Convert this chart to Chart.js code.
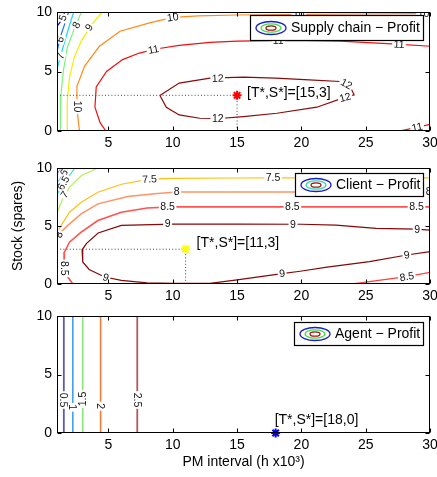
<!DOCTYPE html>
<html><head><meta charset="utf-8">
<script src="https://cdn.jsdelivr.net/npm/chart.js@4"></script>
<style>
html,body{margin:0;padding:0;background:#fff;}
#wrap{position:relative;width:437px;height:477px;overflow:hidden;}
#wrap canvas{position:absolute;left:0;top:0;}
</style>
</head><body>
<div id="wrap">
<canvas id="c1" width="437" height="477"></canvas>
<canvas id="c2" width="437" height="477"></canvas>
<canvas id="c3" width="437" height="477"></canvas>
</div>
<script>
const FONT = '"Liberation Sans", Arial, Helvetica, sans-serif';

// ---------- shared axes ----------
const xTicks = [5, 10, 15, 20, 25, 30];
const yTicks = [0, 5, 10];
const xRange = [1, 30];
const yRange = [0, 10];

// ---------- Supply chain - Profit (top) : contour lines [x, y] ----------
const scLevel5  = [[1.6,10],[1.35,9.3],[1.0,8.8]];
const scLevel6  = [[1.9,10],[1.6,9.0],[1.35,8.2],[1.0,6.7]];
const scLevel7  = [[2.3,10],[1.95,8.8],[1.7,7.9],[1.3,6.4],[1.0,5.2]];
const scLevel8  = [[2.9,10],[2.35,8.6],[1.8,7.0],[1.5,5.1],[1.3,3.0],[1.27,0]];
const scLevel9  = [[4.5,10],[3.75,9.0],[2.9,7.6],[2.35,6.2],[1.97,4.5],[1.8,2.5],[1.8,0]];
const scLevel10 = [[30,9.86],[25,9.83],[20,9.8],[15,9.75],[12,9.68],[10,9.55],[8.2,9.09],[5.9,8.38],[4.3,7.12],[3.15,5.45],[2.55,3.75],[2.55,2.2],[2.62,1.2],[2.75,0]];
const scLevel11 = [[30,7.12],[27.4,7.3],[23,7.55],[19,7.62],[15,7.55],[12.9,7.45],[10.5,7.2],[8.7,6.89],[7.4,6.55],[6.1,6.0],[4.85,5.0],[4.05,3.7],[3.95,2.0],[4.35,0.7],[4.8,0]];
const scLevel11b = [[27.6,0],[29,0.3],[30,0.55]];
const scLevel12 = [[9.0,2.98],[10.5,4.03],[12.9,4.45],[15.5,4.53],[18,4.45],[20.6,4.3],[23,4.16],[23.8,3.7],[24.1,3.04],[23.2,2.76],[21.2,2.0],[18.1,1.49],[15.5,1.21],[13.6,1.05],[12.1,1.07],[10.5,1.35],[9.5,2.0],[9.0,2.98]];
const scLabels = [["5",1.45,9.5,-70],["6",1.23,7.7,-70],["7",1.28,6.3,-70],["8",2.5,8.9,-62],["9",3.5,8.7,-56],
  ["10",10,9.55,-8],["10",19.8,9.8,0],["10",29.5,9.85,0],["10",2.55,2.05,90],
  ["11",8.5,6.84,-11],["11",18.2,7.6,0],["11",27.6,7.28,3],["11",29.0,0.32,-12],
  ["12",13.5,4.42,-3],["12",23.5,3.95,28],["12",23.4,2.82,-16],["12",13.5,1.05,0]];
const scOptimum = [15, 3];

// ---------- Client - Profit (middle) ----------
const clLevel55 = [[1.35,10],[1.0,9.4]];
const clLevel6  = [[1.85,10],[1.45,9.4],[1.0,8.6]];
const clLevel65 = [[2.4,10],[1.85,9.2],[1.4,8.5],[1.0,7.7]];
const clLevel7  = [[4.2,10],[2.9,9.35],[1.97,8.34],[1.45,7.34],[1.12,6.47],[1.0,6.1]];
const clLevel75 = [[30,9.15],[25,9.15],[20,9.15],[15,9.14],[10,9.1],[8.2,9.04],[6,8.6],[4.18,7.91],[2.88,7.05],[1.97,6.19],[1.33,5.05],[1.0,4.4]];
const clLevel8  = [[30,7.94],[20,7.94],[15,7.94],[10.3,7.93],[8.6,7.78],[6.5,7.55],[4.18,6.91],[2.88,6.05],[1.84,5.05],[1.2,4.35],[1.0,4.0]];
const clLevel85 = [[30,6.65],[20,6.65],[10,6.65],[8,6.55],[6,6.19],[4.18,5.47],[2.88,4.47],[1.97,3.6],[1.58,2.75],[1.55,1.5],[1.84,0.6],[2.23,0]];
const clLevel85b = [[24,0],[26,0.32],[28.2,0.63],[30,1.0]];
const clLevel9  = [[30,4.65],[28.9,4.73],[25.8,4.8],[22.7,5.07],[20,5.15],[15,5.17],[10,5.17],[6,5.05],[4.2,4.4],[3.3,3.5],[2.95,2.95],[3.0,1.9],[3.5,1.25],[4.7,0.6],[6.0,0.32],[8.0,0.1],[10,0.05],[12.9,0.06],[15,0.35],[18.5,0.9],[19.9,1.1],[22,1.45],[25.3,1.93],[28.2,2.5],[30,2.8]];
const clLabels = [["6",1.55,9.6,-60],["6.5",1.5,8.7,-60],["7",1.6,7.7,-55],["8",1.15,4.25,-65],["8.5",1.56,1.35,90],
  ["7.5",8.2,9.04,-4],["7.5",17.8,9.14,0],["8",10.3,7.93,0],["8",29.9,7.94,0],
  ["8.5",9.6,6.65,0],["8.5",19.3,6.65,0],["8.5",28.95,6.65,0],
  ["9",9.6,5.17,0],["9",19.35,5.15,0],["9",29.0,4.7,0],["9",4.8,0.57,18],["9",18.5,0.9,-8],["9",28.2,2.5,-10],
  ["8.5",28.2,0.63,-9]];
const clOptimum = [11, 3];

// ---------- Agent - Profit (bottom) ----------
const agLevel05 = [[1.53,0],[1.53,10]];
const agLevel1  = [[2.23,0],[2.23,10]];
const agLevel15 = [[3.0,0],[3.0,10]];
const agLevel2  = [[4.39,0],[4.39,10]];
const agLevel25 = [[7.24,0],[7.24,10]];
const agLabels = [["0.5",1.53,2.82,90],["1",2.23,2.2,90],["1.5",3.0,2.9,-90],["2",4.39,2.29,90],["2.5",7.24,2.82,90]];
const agOptimum = [18, 0];

// ---------- helpers ----------
const pts = a => a.map(p => ({x: p[0], y: p[1]}));
function line(a, color, width) {
  return {data: pts(a), showLine: true, borderColor: color, borderWidth: width || 1.2,
          pointRadius: 0, fill: false, tension: 0, order: 2};
}
function guides(opt) {
  return [
    {data: pts([[xRange[0], opt[1]], [opt[0], opt[1]]]), showLine: true, borderColor: '#444', borderWidth: 1,
     borderDash: [1, 2.2], pointRadius: 0, order: 1},
    {data: pts([[opt[0], yRange[0]], [opt[0], opt[1]]]), showLine: true, borderColor: '#444', borderWidth: 1,
     borderDash: [1, 2.2], pointRadius: 0, order: 1}
  ];
}
function marker(opt, color) {
  return {data: pts([opt]), showLine: false, pointStyle: 'star', pointRadius: 4.5, borderColor: color,
          backgroundColor: color, borderWidth: 2, clip: false, order: 0};
}

function makePlugin(spec) {
  return {
    id: 'matlab_' + spec.id,
    afterDatasetsDraw(chart) {
      const ctx = chart.ctx, xs = chart.scales.x, ys = chart.scales.y, ca = chart.chartArea;
      ctx.save();
      ctx.beginPath(); ctx.rect(ca.left, ca.top, ca.right - ca.left, ca.bottom - ca.top); ctx.clip();
      ctx.font = '10.5px ' + FONT;
      ctx.textAlign = 'center'; ctx.textBaseline = 'middle';
      spec.labels.forEach(([t, x, y, a]) => {
        const px = xs.getPixelForValue(x), py = ys.getPixelForValue(y);
        ctx.save(); ctx.translate(px, py); ctx.rotate(a * Math.PI / 180);
        const w = ctx.measureText(t).width;
        ctx.fillStyle = '#fff'; ctx.fillRect(-w / 2 - 1.5, -5, w + 3, 10);
        ctx.fillStyle = '#111'; ctx.fillText(t, 0, 0.5);
        ctx.restore();
      });
      ctx.restore();
    },
    afterDraw(chart) {
      const ctx = chart.ctx, xs = chart.scales.x, ys = chart.scales.y, ca = chart.chartArea;
      ctx.save();
      // frame and inward ticks
      const L = Math.round(ca.left) + 0.5, R = Math.round(ca.right) - 0.5;
      const T = Math.round(ca.top) + 0.5, B = Math.round(ca.bottom) - 0.5;
      ctx.strokeStyle = '#000'; ctx.lineWidth = 1;
      ctx.strokeRect(L, T, R - L, B - T);
      ctx.beginPath();
      xTicks.forEach(v => {
        const p = Math.round(xs.getPixelForValue(v)) + 0.5;
        ctx.moveTo(p, B); ctx.lineTo(p, B - 4); ctx.moveTo(p, T); ctx.lineTo(p, T + 4);
      });
      yTicks.forEach(v => {
        const p = Math.round(ys.getPixelForValue(v)) + 0.5;
        ctx.moveTo(L, p); ctx.lineTo(L + 4, p); ctx.moveTo(R, p); ctx.lineTo(R - 4, p);
      });
      ctx.stroke();
      // legend box
      ctx.font = '14px ' + FONT;
      const tw = ctx.measureText(spec.legend).width;
      const w = Math.round(41 + tw + 3), h = spec.legendH;
      const right = Math.round(ca.right - 7), top = Math.round(ca.top + spec.legendTop);
      const left = right - w;
      ctx.fillStyle = '#fff'; ctx.fillRect(left, top, w, h);
      ctx.strokeStyle = '#000'; ctx.lineWidth = 1.2; ctx.strokeRect(left + 0.5, top + 0.5, w, h);
      const cx = left + 21, cy = top + h / 2 + 0.5;
      [[15, 6.5], [10, 4.2], [5, 2.2]].forEach(([rx, ry], i) => {
        ctx.beginPath(); ctx.ellipse(cx, cy, rx, ry, 0, 0, 2 * Math.PI);
        ctx.strokeStyle = spec.icon[i]; ctx.lineWidth = 1.3; ctx.stroke();
      });
      ctx.fillStyle = '#000'; ctx.textAlign = 'left'; ctx.textBaseline = 'middle';
      ctx.fillText(spec.legend, left + 41, cy + 0.5);
      // optimum annotation
      const mx = xs.getPixelForValue(spec.opt[0]), my = ys.getPixelForValue(spec.opt[1]);
      ctx.fillText('[T*,S*]=[' + spec.opt[0] + ',' + spec.opt[1] + ']', mx + spec.note[0], my + spec.note[1]);
      ctx.restore();
    }
  };
}

function makeChart(id, spec) {
  return new Chart(document.getElementById(id), {
    type: 'scatter',
    data: {datasets: spec.datasets},
    options: {
      responsive: false, animation: false, devicePixelRatio: 1,
      layout: {padding: {left: 0, right: 7, top: spec.top, bottom: spec.bottom}},
      plugins: {legend: {display: false}, tooltip: {enabled: false}},
      scales: {
        x: {
          type: 'linear', min: xRange[0], max: xRange[1],
          grid: {display: false, drawTicks: false}, border: {display: false},
          ticks: {color: '#000', font: {family: FONT, size: 14}, padding: 4, maxRotation: 0, autoSkip: false},
          title: spec.xTitle ? {display: true, text: spec.xTitle, color: '#000', font: {family: FONT, size: 14},
                                padding: {top: 0, bottom: 6}} : {display: false},
          afterBuildTicks: s => { s.ticks = xTicks.map(v => ({value: v})); },
          afterFit: s => { s.height = spec.xh; s.paddingLeft = 0; s.paddingRight = 0; }
        },
        y: {
          type: 'linear', min: yRange[0], max: yRange[1],
          grid: {display: false, drawTicks: false}, border: {display: false},
          ticks: {color: '#000', font: {family: FONT, size: 14}, padding: 5, autoSkip: false},
          title: spec.yTitle ? {display: true, text: spec.yTitle, color: '#000', font: {family: FONT, size: 14},
                                padding: {top: 10, bottom: 0}} : {display: false},
          afterBuildTicks: s => { s.ticks = yTicks.map(v => ({value: v})); },
          afterFit: s => { s.width = 57; s.paddingTop = 0; s.paddingBottom = 0; }
        }
      }
    },
    plugins: [makePlugin(spec)]
  });
}

makeChart('c1', {
  id: 1, top: 12, bottom: 326, xh: 20,
  legend: 'Supply chain \u2212 Profit', legendTop: 3, legendH: 25, icon: ['#1a1ad0', '#40e040', '#a01010'],
  opt: scOptimum, note: [10, -2], labels: scLabels,
  datasets: [
    marker(scOptimum, '#ff0000'),
    ...guides(scOptimum),
    line(scLevel5, '#0000c8'), line(scLevel6, '#1a6cff'), line(scLevel7, '#18d8f0'),
    line(scLevel8, '#7cf07c'), line(scLevel9, '#f2f000'), line(scLevel10, '#ff8a1a'),
    line(scLevel11, '#f01010'), line(scLevel11b, '#f01010'), line(scLevel12, '#8a0a0a')
  ]
});

makeChart('c2', {
  id: 2, top: 168, bottom: 173, xh: 20, yTitle: 'Stock (spares)',
  legend: 'Client \u2212 Profit', legendTop: 4.5, legendH: 23, icon: ['#1a1ad0', '#30d8a8', '#a01010'],
  opt: clOptimum, note: [11, -6], labels: clLabels,
  datasets: [
    marker(clOptimum, '#ffff00'),
    ...guides(clOptimum),
    line(clLevel55, '#1a2ac8'), line(clLevel6, '#1e8cff'), line(clLevel65, '#40e0d0'),
    line(clLevel7, '#b4ec5a'), line(clLevel75, '#ffc010'), line(clLevel8, '#ff9462', 1.5),
    line(clLevel85, '#ff5252', 1.6), line(clLevel85b, '#ff4040', 1.3), line(clLevel9, '#840808')
  ]
});

makeChart('c3', {
  id: 3, top: 316, bottom: 0, xh: 44, xTitle: 'PM interval (h x10\u00b3)',
  legend: 'Agent \u2212 Profit', legendTop: 5.5, legendH: 23, icon: ['#1a1ad0', '#40e040', '#a01010'],
  opt: agOptimum, note: [-1, -13], labels: agLabels,
  datasets: [
    marker(agOptimum, '#0000ff'),
    line(agLevel05, '#5a5ab8', 1.8), line(agLevel1, '#40a0f0', 1.6), line(agLevel15, '#8ee47c', 1.6),
    line(agLevel2, '#f07a36', 1.6), line(agLevel25, '#b45a5a', 1.8)
  ]
});
</script>
</body></html>
